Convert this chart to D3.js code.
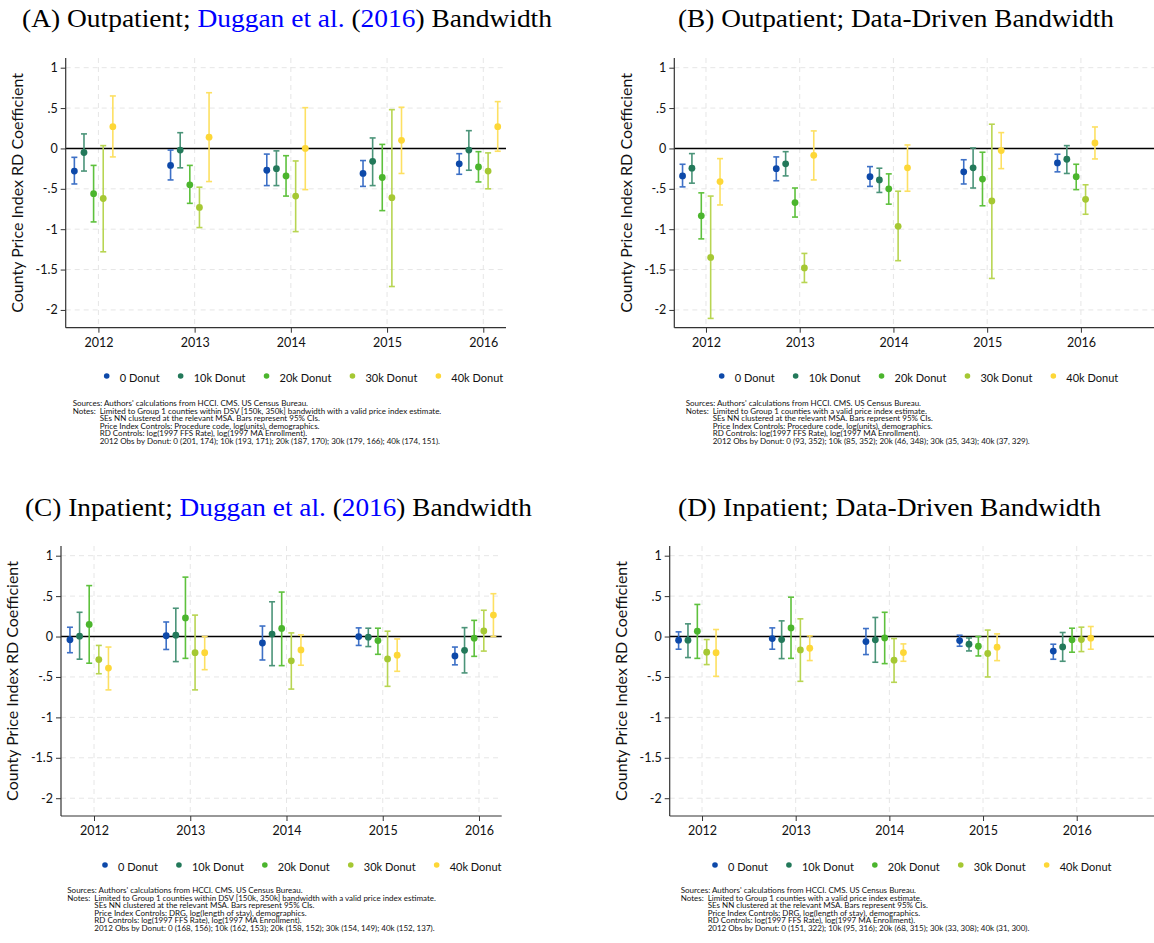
<!DOCTYPE html>
<html>
<head>
<meta charset="utf-8">
<script src="https://cdn.jsdelivr.net/npm/d3@7/dist/d3.min.js"></script>
<style>
  body { margin: 0; background: #fff; }
  svg { display: block; }
</style>
</head>
<body>
<div id="chart"></div>
<script>
// categories
var years = [2012, 2013, 2014, 2015, 2016];
var donuts = ["0 Donut", "10k Donut", "20k Donut", "30k Donut", "40k Donut"];
var offsets = [-0.25, -0.15, -0.05, 0.05, 0.15];
var dotColors = ["#0d49a9", "#23795a", "#4bb52d", "#a5c833", "#fdd737"];
var barColors = ["#3d70c6", "#4b9479", "#5ec13d", "#b8d552", "#fde062"];
var yTicks = [1, 0.5, 0, -0.5, -1, -1.5, -2];
var yTickLabels = ["1", ".5", "0", "-.5", "-1", "-1.5", "-2"];

// (A) Outpatient, Duggan bandwidth  (rows = donut, cols = year)
var outDugEst = [[-0.28, -0.21, -0.27, -0.31, -0.19], [-0.05, -0.02, -0.25, -0.16, -0.02], [-0.56, -0.45, -0.34, -0.36, -0.23], [-0.62, -0.73, -0.59, -0.61, -0.28], [0.27, 0.14, 0.0, 0.10, 0.27]];
var outDugLo = [[-0.44, -0.39, -0.46, -0.47, -0.32], [-0.28, -0.24, -0.46, -0.46, -0.27], [-0.91, -0.68, -0.59, -0.77, -0.415], [-1.28, -0.98, -1.03, -1.71, -0.50], [-0.105, -0.41, -0.51, -0.31, -0.035]];
var outDugHi = [[-0.11, -0.02, -0.07, -0.15, -0.065], [0.18, 0.195, -0.03, 0.13, 0.22], [-0.21, -0.21, -0.09, 0.05, -0.04], [0.035, -0.48, -0.155, 0.48, -0.055], [0.65, 0.69, 0.505, 0.51, 0.58]];

// (B) Outpatient, data-driven bandwidth
var outDDEst = [[-0.34, -0.25, -0.35, -0.29, -0.18], [-0.245, -0.19, -0.39, -0.24, -0.134], [-0.835, -0.67, -0.50, -0.38, -0.35], [-1.35, -1.48, -0.965, -0.65, -0.63], [-0.41, -0.085, -0.24, -0.027, 0.068]];
var outDDLo = [[-0.476, -0.40, -0.47, -0.44, -0.29], [-0.43, -0.34, -0.545, -0.49, -0.31], [-1.12, -0.85, -0.69, -0.71, -0.51], [-2.105, -1.66, -1.39, -1.61, -0.815], [-0.70, -0.39, -0.53, -0.25, -0.13]];
var outDDHi = [[-0.196, -0.105, -0.225, -0.14, -0.072], [-0.064, -0.04, -0.245, 0.006, 0.035], [-0.55, -0.49, -0.315, -0.047, -0.196], [-0.59, -1.30, -0.53, 0.30, -0.45], [-0.126, 0.217, 0.043, 0.196, 0.266]];

// (C) Inpatient, Duggan bandwidth
var inDugEst = [[-0.04, 0.01, -0.08, 0.0, -0.24], [0.005, 0.017, 0.03, -0.008, -0.17], [0.15, 0.23, 0.10, -0.05, -0.02], [-0.285, -0.20, -0.30, -0.277, 0.07], [-0.39, -0.20, -0.165, -0.23, 0.265]];
var inDugLo = [[-0.20, -0.16, -0.29, -0.11, -0.35], [-0.28, -0.31, -0.36, -0.124, -0.45], [-0.33, -0.27, -0.36, -0.22, -0.245], [-0.46, -0.66, -0.65, -0.616, -0.18], [-0.66, -0.41, -0.355, -0.43, 0.0]];
var inDugHi = [[0.115, 0.18, 0.13, 0.107, -0.13], [0.30, 0.35, 0.43, 0.103, 0.11], [0.63, 0.735, 0.55, 0.103, 0.20], [-0.11, 0.265, 0.045, 0.066, 0.325], [-0.13, 0.0, 0.02, -0.03, 0.53]];

// (D) Inpatient, data-driven bandwidth
var inDDEst = [[-0.045, -0.025, -0.062, -0.05, -0.18], [-0.045, -0.037, -0.041, -0.095, -0.128], [0.066, 0.107, -0.017, -0.12, -0.041], [-0.194, -0.165, -0.293, -0.21, -0.037], [-0.20, -0.145, -0.198, -0.132, -0.02]];
var inDDLo = [[-0.157, -0.157, -0.223, -0.12, -0.281], [-0.26, -0.273, -0.318, -0.178, -0.306], [-0.27, -0.27, -0.335, -0.24, -0.194], [-0.347, -0.554, -0.566, -0.50, -0.186], [-0.492, -0.297, -0.306, -0.298, -0.157]];
var inDDHi = [[0.058, 0.107, 0.099, 0.016, -0.095], [0.157, 0.194, 0.236, -0.017, 0.05], [0.397, 0.487, 0.30, 0.0, 0.103], [-0.037, 0.219, -0.025, 0.08, 0.116], [0.087, 0.008, -0.091, 0.033, 0.124]];

var sourcesLine = "Sources: Authors' calculations from HCCI. CMS. US Census Bureau.";
var notesA = ["Limited to Group 1 counties within DSV [150k, 350k] bandwidth with a valid price index estimate.", "SEs NN clustered at the relevant MSA. Bars represent 95% CIs.", "Price Index Controls: Procedure code, log(units), demographics.", "RD Controls: log(1997 FFS Rate), log(1997 MA Enrollment).", "2012 Obs by Donut: 0 (201, 174); 10k (193, 171); 20k (187, 170); 30k (179, 166); 40k (174, 151)."];
var notesB = ["Limited to Group 1 counties with a valid price index estimate.", "SEs NN clustered at the relevant MSA. Bars represent 95% CIs.", "Price Index Controls: Procedure code, log(units), demographics.", "RD Controls: log(1997 FFS Rate), log(1997 MA Enrollment).", "2012 Obs by Donut: 0 (93, 352); 10k (85, 352); 20k (46, 348); 30k (35, 343); 40k (37, 329)."];
var notesC = ["Limited to Group 1 counties within DSV [150k, 350k] bandwidth with a valid price index estimate.", "SEs NN clustered at the relevant MSA. Bars represent 95% CIs.", "Price Index Controls: DRG, log(length of stay), demographics.", "RD Controls: log(1997 FFS Rate), log(1997 MA Enrollment).", "2012 Obs by Donut: 0 (168, 156); 10k (162, 153); 20k (158, 152); 30k (154, 149); 40k (152, 137)."];
var notesD = ["Limited to Group 1 counties with a valid price index estimate.", "SEs NN clustered at the relevant MSA. Bars represent 95% CIs.", "Price Index Controls: DRG, log(length of stay), demographics.", "RD Controls: log(1997 FFS Rate), log(1997 MA Enrollment).", "2012 Obs by Donut: 0 (151, 322); 10k (95, 316); 20k (68, 315); 30k (33, 308); 40k (31, 300)."];

var sans = "Lato, 'Open Sans', sans-serif";
var serif = "'Liberation Serif', 'DejaVu Serif', serif";

var svg = d3.select("#chart")
  .append("svg")
    .attr("width", 1154)
    .attr("height", 943);

svg.append("rect").attr("width", 1154).attr("height", 943).attr("fill", "#fff");

var panels = [
  {letter: "A", kind: "Outpatient", duggan: true, est: outDugEst, lo: outDugLo, hi: outDugHi, notes: notesA,
   left: 65.7, right: 506, top: 58, bottom: 327.7, xMin: 2011.66, xMax: 2016.236, titleX: 22, titleY: 27, titleW: 530, ylabX: 17, legY: 378, legX: 106.7, noteX: 72.7, noteY: 406},
  {letter: "B", kind: "Outpatient", duggan: false, est: outDDEst, lo: outDDLo, hi: outDDHi, notes: notesB,
   left: 674.3, right: 1154, top: 58, bottom: 327.7, xMin: 2011.662, xMax: 2016.78, titleX: 678, titleY: 27, titleW: 436, ylabX: 626, legY: 378, legX: 721.7, noteX: 685.7, noteY: 406},
  {letter: "C", kind: "Inpatient", duggan: true, est: inDugEst, lo: inDugLo, hi: inDugHi, notes: notesC,
   left: 61, right: 501.7, top: 546, bottom: 816, xMin: 2011.657, xMax: 2016.236, titleX: 25, titleY: 516, titleW: 507, ylabX: 12, legY: 867, legX: 105, noteX: 67.3, noteY: 893},
  {letter: "D", kind: "Inpatient", duggan: false, est: inDDEst, lo: inDDLo, hi: inDDHi, notes: notesD,
   left: 669.7, right: 1154, top: 546, bottom: 816, xMin: 2011.655, xMax: 2016.825, titleX: 678, titleY: 516, titleW: 423, ylabX: 621, legY: 867, legX: 715, noteX: 680.7, noteY: 893}
];

panels.forEach(function(p) {
  var g = svg.append("g");

  // y runs from -2.22 at the bottom axis to 1.12 at the top
  var y = d3.scaleLinear().domain([-2.22, 1.12]).range([p.bottom, p.top]);
  var x = d3.scaleLinear().domain([p.xMin, p.xMax]).range([p.left, p.right]);

  // title (LaTeX-style, stretched to the reference width)
  var t = g.append("text")
    .attr("x", p.titleX).attr("y", p.titleY)
    .attr("textLength", p.titleW).attr("lengthAdjust", "spacingAndGlyphs")
    .style("font-family", serif).style("font-size", "25px").attr("fill", "#000");
  t.append("tspan").text("(" + p.letter + ") " + p.kind + "; ");
  if (p.duggan) {
    t.append("tspan").attr("fill", "#0000ff").text("Duggan et al.");
    t.append("tspan").text(" (");
    t.append("tspan").attr("fill", "#0000ff").text("2016");
    t.append("tspan").text(") Bandwidth");
  } else {
    t.append("tspan").text("Data-Driven Bandwidth");
  }

  // gridlines
  g.selectAll(".hgrid")
    .data(yTicks.filter(function(v) { return v !== 0; }))
    .enter().append("line")
      .attr("x1", p.left).attr("x2", p.right)
      .attr("y1", function(d) { return y(d); }).attr("y2", function(d) { return y(d); })
      .attr("stroke", "#e6e6e6").attr("stroke-width", 1).attr("stroke-dasharray", "5,4");
  g.selectAll(".vgrid")
    .data(years)
    .enter().append("line")
      .attr("x1", function(d) { return x(d); }).attr("x2", function(d) { return x(d); })
      .attr("y1", p.top).attr("y2", p.bottom)
      .attr("stroke", "#e6e6e6").attr("stroke-width", 1).attr("stroke-dasharray", "5,4");

  // zero line
  g.append("line")
    .attr("x1", p.left).attr("x2", p.right)
    .attr("y1", y(0)).attr("y2", y(0))
    .attr("stroke", "#000").attr("stroke-width", 1.4);

  // Y axis
  var yAxis = g.append("g")
    .attr("transform", "translate(" + p.left + ",0)")
    .call(d3.axisLeft(y).tickValues(yTicks).tickSize(5).tickPadding(3).tickSizeOuter(0)
      .tickFormat(function(d, i) { return yTickLabels[i]; }));
  yAxis.select(".domain").remove();
  yAxis.selectAll("line").attr("stroke", "#333");
  yAxis.selectAll("text").style("font-family", sans).style("font-size", "12.5px").attr("fill", "#111");

  // X axis
  var xAxis = g.append("g")
    .attr("transform", "translate(0," + p.bottom + ")")
    .call(d3.axisBottom(x).tickValues(years).tickSize(5).tickPadding(5).tickFormat(d3.format("d")));
  xAxis.select(".domain").remove();
  xAxis.selectAll("line").attr("stroke", "#333");
  xAxis.selectAll("text").style("font-family", sans).style("font-size", "12.5px").attr("fill", "#111");

  g.append("line").attr("x1", p.left).attr("x2", p.left).attr("y1", p.top).attr("y2", p.bottom)
    .attr("stroke", "#333").attr("stroke-width", 1.2);
  g.append("line").attr("x1", p.left).attr("x2", p.right).attr("y1", p.bottom).attr("y2", p.bottom)
    .attr("stroke", "#333").attr("stroke-width", 1.2);

  // y label
  g.append("text")
    .attr("transform", "translate(" + p.ylabX + "," + ((p.top + p.bottom) / 2) + ")rotate(-90)")
    .attr("text-anchor", "middle").attr("dy", "0.35em")
    .style("font-family", sans).style("font-size", "16px").attr("fill", "#111")
    .text("County Price Index RD Coefficient");

  // error bars and points
  donuts.forEach(function(name, s) {
    var pts = years.map(function(yr, i) {
      return {xv: yr + offsets[s], est: p.est[s][i], lo: p.lo[s][i], hi: p.hi[s][i]};
    });
    var bars = g.append("g").attr("stroke", barColors[s]).attr("stroke-width", 1.6);
    bars.selectAll(".v").data(pts).enter().append("line")
      .attr("x1", function(d) { return x(d.xv); }).attr("x2", function(d) { return x(d.xv); })
      .attr("y1", function(d) { return y(d.lo); }).attr("y2", function(d) { return y(d.hi); });
    bars.selectAll(".capLo").data(pts).enter().append("line")
      .attr("x1", function(d) { return x(d.xv) - 3; }).attr("x2", function(d) { return x(d.xv) + 3; })
      .attr("y1", function(d) { return y(d.lo); }).attr("y2", function(d) { return y(d.lo); });
    bars.selectAll(".capHi").data(pts).enter().append("line")
      .attr("x1", function(d) { return x(d.xv) - 3; }).attr("x2", function(d) { return x(d.xv) + 3; })
      .attr("y1", function(d) { return y(d.hi); }).attr("y2", function(d) { return y(d.hi); });
    g.selectAll(".dot" + s).data(pts).enter().append("circle")
      .attr("cx", function(d) { return x(d.xv); })
      .attr("cy", function(d) { return y(d.est); })
      .attr("r", 3.4)
      .attr("fill", dotColors[s]);
  });

  // legend
  var lx = p.legX;
  donuts.forEach(function(name, s) {
    g.append("circle").attr("cx", lx).attr("cy", p.legY - 2).attr("r", 2.8).attr("fill", dotColors[s]);
    var lt = g.append("text").attr("x", lx + 13).attr("y", p.legY).attr("dy", "0.35em")
      .style("font-family", sans).style("font-size", "11px").attr("fill", "#111").text(name);
    lx += 13 + lt.node().getComputedTextLength() + 21;
  });

  // notes
  var nt = g.append("g").style("font-family", sans).style("font-size", "8px").attr("fill", "#111");
  nt.append("text").attr("x", p.noteX).attr("y", p.noteY).text(sourcesLine);
  nt.append("text").attr("x", p.noteX).attr("y", p.noteY + 7.5).text("Notes:");
  p.notes.forEach(function(line, i) {
    nt.append("text").attr("x", p.noteX + 27).attr("y", p.noteY + 7.5 * (i + 1)).text(line);
  });
});
</script>
</body>
</html>
